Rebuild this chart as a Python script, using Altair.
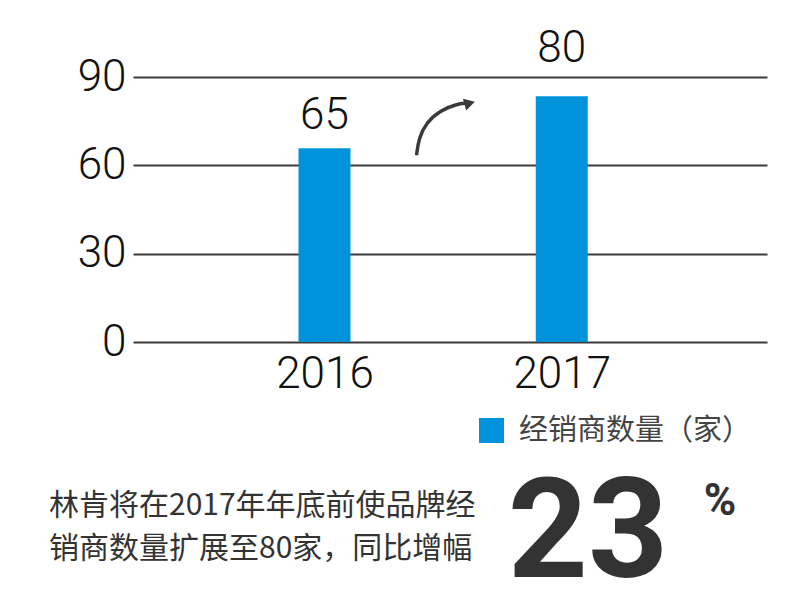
import altair as alt
import pandas as pd

# ---- data ----
years = [2016, 2017]
dealer_bars = [65.8, 83.5]          # bar heights as drawn
bar_labels = ["65", "80"]           # printed labels
series_name = "经销商数量（家）"
y_ticks = [0, 30, 60, 90]
arrow_x = [2016.388, 2016.397, 2016.430, 2016.488, 2016.563, 2016.595]
arrow_y = [63.4, 69.2, 74.6, 78.7, 80.9, 81.1]
head_x = [2016.612]
head_y = [81.1]
note_lines = ["林肯将在2017年年底前使品牌经", "销商数量扩展至80家，同比增幅"]
growth = "23"
growth_unit = "%"

BLUE = "#0092DB"
GRID = "#3a3a3a"
NUM_FONT = "Roboto"
CJK_FONT = "Noto Sans CJK SC"

bars_df = pd.DataFrame({
    "year": years,
    "value": dealer_bars,
    "label": bar_labels,
    "series": [series_name] * len(years),
})
arrow_df = pd.DataFrame({"ax": arrow_x, "ay": arrow_y, "i": list(range(len(arrow_x)))})
head_df = pd.DataFrame({"hx": head_x, "hy": head_y})

x_scale = alt.Scale(domain=[2015.214, 2017.844], nice=False, zero=False)
y_scale = alt.Scale(domain=[0, 90], nice=False)
x_axis = alt.Axis(values=years, format="d", grid=False, ticks=False, domain=False,
                  labelFontSize=44, labelFont=NUM_FONT, labelFontWeight=300,
                  labelColor="#111", labelPadding=10, labelFlush=False, title=None)
y_axis = alt.Axis(values=y_ticks, grid=True, gridColor=GRID, gridWidth=2,
                  ticks=False, domain=False, labelFontSize=44, labelFont=NUM_FONT,
                  labelFontWeight=300, labelColor="#111", labelPadding=7, title=None)


def X(f):
    return alt.X(f, scale=x_scale, axis=x_axis, title=None)


def Y(f):
    return alt.Y(f, scale=y_scale, axis=y_axis, title=None)


base = alt.Chart(bars_df)

bars = base.mark_bar(size=52).encode(
    x=X("year:Q"),
    y=Y("value:Q"),
    color=alt.Color("series:N", scale=alt.Scale(range=[BLUE]),
                    legend=alt.Legend(title=None, orient="none", legendX=344, legendY=339,
                                      symbolType="square", symbolSize=625, symbolStrokeWidth=0,
                                      symbolOpacity=1, labelFontSize=29, labelFont=CJK_FONT,
                                      labelColor="#444", labelOffset=13, padding=0,
                                      labelLimit=400)),
)

label_style = dict(fontSize=44, font=NUM_FONT, fontWeight=300, color="#111", baseline="alphabetic")
lab16 = base.transform_filter(alt.datum.year == 2016).mark_text(dy=-19, **label_style).encode(
    x=X("year:Q"), y=Y("value:Q"), text="label:N",
)
lab17 = base.transform_filter(alt.datum.year == 2017).mark_text(dy=-34, **label_style).encode(
    x=X("year:Q"), y=Y("value:Q"), text="label:N",
)

arrow = alt.Chart(arrow_df).mark_line(color=GRID, strokeWidth=3.5, interpolate="basis").encode(
    x=X("ax:Q"), y=Y("ay:Q"), order="i:Q",
)
head = alt.Chart(head_df).mark_point(shape="triangle-right", filled=True, size=150,
                                     opacity=1, color=GRID, angle=345).encode(
    x=X("hx:Q"), y=Y("hy:Q"),
)

one = alt.Chart(pd.DataFrame({"k": [0]}))
note = one.mark_text(text=note_lines, lineHeight=43, fontSize=30, font=CJK_FONT,
                     color="#333", align="left", baseline="alphabetic").encode(
    x=alt.value(-84), y=alt.value(438))
big = one.mark_text(text=growth, fontSize=140, font=NUM_FONT, fontWeight="bold",
                    color="#333", align="center", baseline="alphabetic").encode(
    x=alt.value(455), y=alt.value(500))
pct = one.mark_text(text=growth_unit, fontSize=44, font=NUM_FONT, fontWeight="bold",
                    color="#333", align="center", baseline="alphabetic").encode(
    x=alt.value(587), y=alt.value(438))

chart = alt.layer(bars, lab16, lab17, arrow, head, note, big, pct).properties(
    width=634, height=265,
    padding={"left": 125, "top": 69, "right": 25, "bottom": 242},
    autosize=alt.AutoSizeParams(type="none"),
    background="white",
).configure_view(stroke=None)

chart.save("out.html", embed_options={"renderer": "svg", "actions": False})
